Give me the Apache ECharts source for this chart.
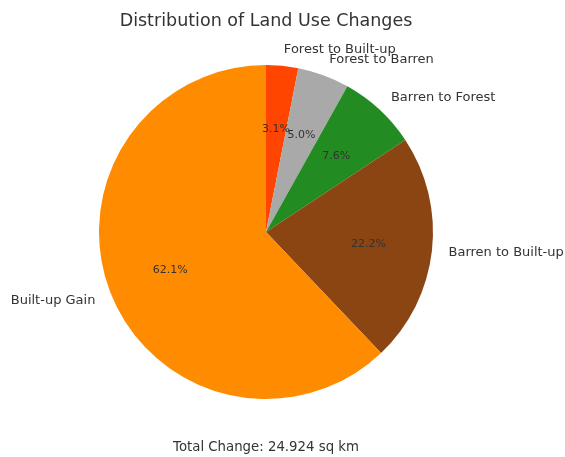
<!DOCTYPE html>
<html>
<head>
<meta charset="utf-8">
<script src="https://cdn.jsdelivr.net/npm/echarts@6/dist/echarts.min.js"></script>
<style>
  html, body { margin: 0; padding: 0; background: #fff; }
  #chart { width: 565px; height: 457px; }
</style>
</head>
<body>
<div id="chart"></div>
<script>
// Land use change categories and their share of the total (%)
const categories = ['Forest to Built-up', 'Forest to Barren', 'Barren to Forest', 'Barren to Built-up', 'Built-up Gain'];
const shares = [3.1, 5.0, 7.6, 22.2, 62.1];
const colors = ['#FF4500', '#A9A9A9', '#228B22', '#8B4513', '#FF8C00'];
const totalChange = 24.924;

const font = 'DejaVu Sans';
const cx = 266, cy = 232, R = 167;

const slices = categories.map((name, i) => ({ name, value: shares[i], itemStyle: { color: colors[i] } }));

const chart = echarts.init(document.getElementById('chart'), null, { renderer: 'canvas' });
chart.setOption({
  animation: false,
  backgroundColor: '#ffffff',
  graphic: [
    {
      type: 'text', x: cx, y: 21, silent: true,
      style: {
        text: 'Distribution of Land Use Changes',
        font: '17.5px "DejaVu Sans"', fill: '#333',
        textAlign: 'center', textVerticalAlign: 'middle'
      }
    },
    {
      type: 'text', x: cx, y: 448, silent: true,
      style: {
        text: 'Total Change: ' + totalChange.toFixed(3) + ' sq km',
        font: '13.3px "DejaVu Sans"', fill: '#333',
        textAlign: 'center', textVerticalAlign: 'middle'
      }
    }
  ],
  series: [
    {
      // main pie with category names outside
      type: 'pie',
      center: [cx, cy],
      radius: [0, R],
      startAngle: 90,
      clockwise: true,
      avoidLabelOverlap: false,
      silent: true,
      data: slices,
      label: {
        show: true,
        position: 'outside',
        formatter: '{b}',
        fontFamily: font,
        fontSize: 13,
        color: '#333',
        distanceToLabelLine: 0
      },
      labelLayout: { hideOverlap: false },
      labelLine: { show: false, length: R * 0.1, length2: 0 },
      emphasis: { disabled: true }
    },
    {
      // transparent overlay placing percentage labels at 0.6 of the radius
      type: 'pie',
      center: [cx, cy],
      radius: [0, R * 1.2],
      startAngle: 90,
      clockwise: true,
      avoidLabelOverlap: false,
      silent: true,
      z: 3,
      data: categories.map((name, i) => ({ name, value: shares[i] })),
      itemStyle: { color: 'rgba(0,0,0,0)', borderWidth: 0 },
      label: {
        show: true,
        position: 'inside',
        formatter: p => p.value.toFixed(1) + '%',
        fontFamily: font,
        fontSize: 11,
        color: '#333'
      },
      labelLayout: { hideOverlap: false },
      labelLine: { show: false },
      emphasis: { disabled: true }
    }
  ]
});
</script>
</body>
</html>
